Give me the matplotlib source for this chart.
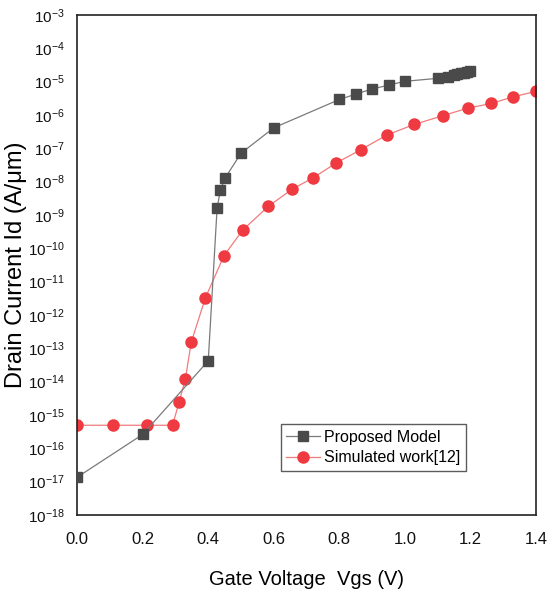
import math
import matplotlib
matplotlib.use("Agg")
import matplotlib.pyplot as plt
from matplotlib.ticker import FixedLocator, FuncFormatter

plt.rcParams['font.family'] = ['Liberation Sans', 'DejaVu Sans']
plt.rcParams['mathtext.fontset'] = 'custom'
plt.rcParams['mathtext.rm'] = 'Liberation Sans'

# Proposed Model
vgs_model = [0.0, 0.2, 0.40, 0.427, 0.437, 0.451, 0.50, 0.60, 0.80, 0.85, 0.90, 0.95, 1.00,
             1.10, 1.13, 1.15, 1.16, 1.17, 1.18, 1.19, 1.20]
id_model = [1.35e-17, 2.6e-16, 4.2e-14, 1.6e-9, 5.6e-9, 1.26e-8, 7.1e-8, 4.1e-7, 2.9e-6,
            4.2e-6, 6.0e-6, 7.8e-6, 1.02e-5, 1.25e-5, 1.4e-5, 1.55e-5, 1.65e-5, 1.75e-5,
            1.85e-5, 1.95e-5, 2.05e-5]

# Simulated work [12]
vgs_sim = [0.0, 0.11, 0.214, 0.291, 0.311, 0.330, 0.348, 0.391, 0.448, 0.505, 0.583, 0.656,
           0.720, 0.790, 0.866, 0.945, 1.029, 1.116, 1.192, 1.263, 1.331, 1.40]
id_sim = [4.9e-16, 4.9e-16, 4.9e-16, 4.9e-16, 2.4e-15, 1.17e-14, 1.5e-13, 3.2e-12, 6.0e-11,
          3.5e-10, 1.8e-9, 5.9e-9, 1.3e-8, 3.6e-8, 9.1e-8, 2.5e-7, 5.2e-7, 9.5e-7, 1.6e-6,
          2.2e-6, 3.5e-6, 5.1e-6]

x_ticks = [0.0, 0.2, 0.4, 0.6, 0.8, 1.0, 1.2, 1.4]
y_exps = list(range(-18, -2))

fig = plt.figure(figsize=(5.47, 5.96), dpi=100)
ax = fig.add_axes([0.141, 0.136, 0.839, 0.839])

ax.plot(vgs_model, id_model, color='#7a7a7a', lw=0.9, marker='s', ms=7.5,
        markerfacecolor='#4a4a4a', markeredgecolor='#4a4a4a', label='Proposed Model', zorder=3)
ax.plot(vgs_sim, id_sim, color='#f27a7c', lw=0.9, marker='o', ms=8,
        markerfacecolor='#ee3a40', markeredgecolor='#ee3a40', label='Simulated work[12]', zorder=2)

ax.set_yscale('log')
ax.set_xlim(0, 1.4)
ax.set_ylim(1e-18, 1e-3)
ax.xaxis.set_major_locator(FixedLocator(x_ticks))
ax.xaxis.set_major_formatter(FuncFormatter(lambda v, p: f"{v:.1f}"))
ax.yaxis.set_major_locator(FixedLocator([10.0**e for e in y_exps]))
ax.yaxis.set_minor_locator(FixedLocator([]))
ax.yaxis.set_major_formatter(FuncFormatter(lambda v, p: r"$\mathregular{10^{%d}}$" % round(math.log10(v))))
ax.tick_params(axis='x', length=0, labelsize=12, colors='#111111', pad=12)
ax.tick_params(axis='y', length=0, labelsize=11, colors='#111111', pad=9)
for s in ax.spines.values():
    s.set_linewidth(1.2)
    s.set_color('#222222')

ax.set_ylabel('Drain Current Id (A/μm)', fontsize=17)
ax.yaxis.set_label_coords(-0.11, 0.5)
ax.set_xlabel('Gate Voltage  Vgs (V)', fontsize=14.5)
ax.xaxis.set_label_coords(0.5, -0.11)

leg = ax.legend(loc='upper right', bbox_to_anchor=(0.848, 0.182), fontsize=11.5, frameon=True,
                fancybox=False, edgecolor='#333333', handlelength=2.1, borderpad=0.35,
                labelspacing=0.35, handletextpad=0.3, borderaxespad=0)
leg.get_frame().set_linewidth(1.0)

fig.savefig('out.png', dpi=100)
